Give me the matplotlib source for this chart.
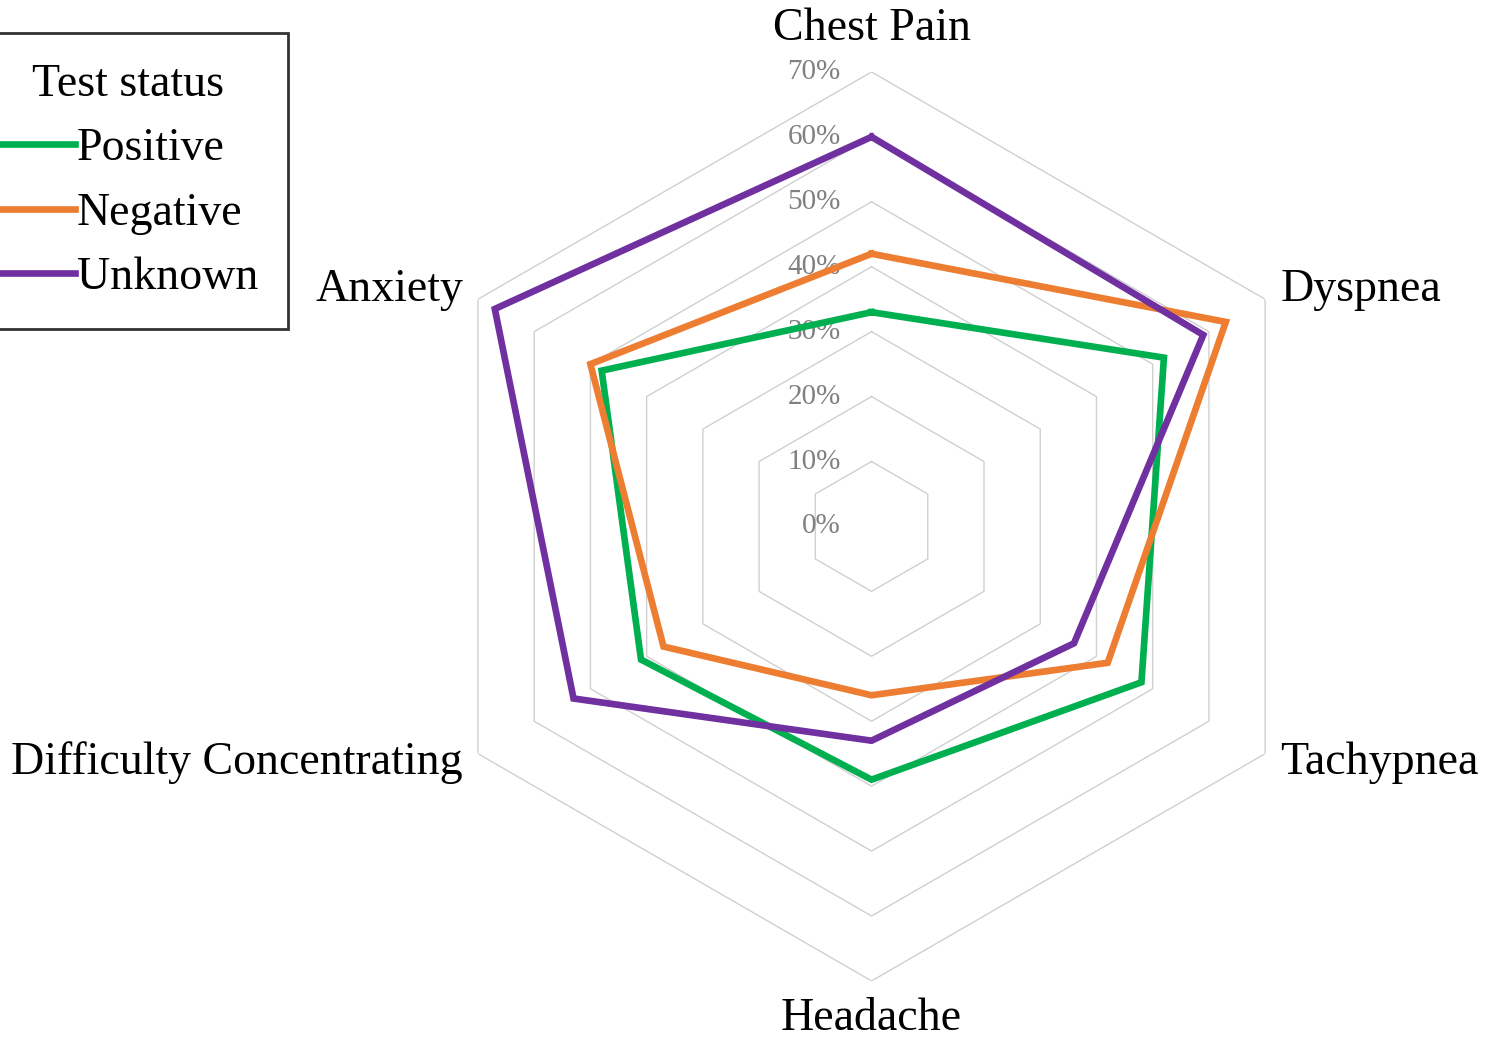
import numpy as np
import matplotlib
matplotlib.use("Agg")
import matplotlib.pyplot as plt

plt.rcParams['font.family'] = ['Liberation Serif', 'DejaVu Serif']

# data (percent)
categories = ["Chest Pain", "Dyspnea", "Tachypnea", "Headache",
              "Difficulty Concentrating", "Anxiety"]
positive = [33, 52, 48, 39, 41, 48]
negative = [42, 63, 42, 26, 37, 50]
unknown = [60, 59, 36, 33, 53, 67]
ring_values = [0, 10, 20, 30, 40, 50, 60, 70]
ring_labels = ["0%", "10%", "20%", "30%", "40%", "50%", "60%", "70%"]

series = [("Positive", positive, "#00B050"),
          ("Negative", negative, "#ED7D31"),
          ("Unknown", unknown, "#7030A0")]

n = len(categories)
angles = np.linspace(0, 2 * np.pi, n, endpoint=False)
closed = np.append(angles, angles[0])

fig = plt.figure(figsize=(14.85, 10.40), dpi=100)
ax = fig.add_axes([0.2808, 0.0568, 0.6122, 0.874], projection='polar')
ax.set_theta_zero_location('N')
ax.set_theta_direction(-1)
ax.set_ylim(0, 70)
ax.set_xticks([])
ax.set_yticks([])
ax.grid(False)
ax.spines['polar'].set_visible(False)
ax.patch.set_visible(False)

# hexagon grid
for r in ring_values[1:]:
    ax.plot(closed, [r] * (n + 1), color="#D0D0D0", lw=1.0, zorder=1)

# ring labels
for r, lab in zip(ring_values, ring_labels):
    ax.annotate(lab, xy=(0, r), xytext=(-31, 0), textcoords='offset pixels',
                ha='right', va='center', fontsize=21, color="#808080",
                annotation_clip=False, zorder=2)

lines = []
for name, vals, col in series:
    v = np.append(vals, vals[0])
    ln, = ax.plot(closed, v, color=col, lw=4.8, label=name, zorder=3,
                  solid_joinstyle='miter')
    lines.append(ln)

# category labels
offsets = [(0, 43, 'center'), (15, 9, 'left'), (15, -9, 'left'),
           (0, -38, 'center'), (-15, -9, 'right'), (-15, 9, 'right')]
for ang, cat, (dx, dy, ha) in zip(angles, categories, offsets):
    ax.annotate(cat, xy=(ang, 70), xytext=(dx, dy), textcoords='offset pixels',
                ha=ha, va='center', fontsize=33, annotation_clip=False)

leg = fig.legend(handles=lines, title="Test status", loc='upper left',
                 bbox_to_anchor=(-0.0222, 0.968), fontsize=33,
                 title_fontsize=33, frameon=True, fancybox=False,
                 handlelength=1.7, handletextpad=0.05, borderpad=0.65,
                 labelspacing=0.48, borderaxespad=0)
leg.get_frame().set_edgecolor('black')
leg.get_frame().set_linewidth(2.0)

fig.savefig("out.png", dpi=100)
